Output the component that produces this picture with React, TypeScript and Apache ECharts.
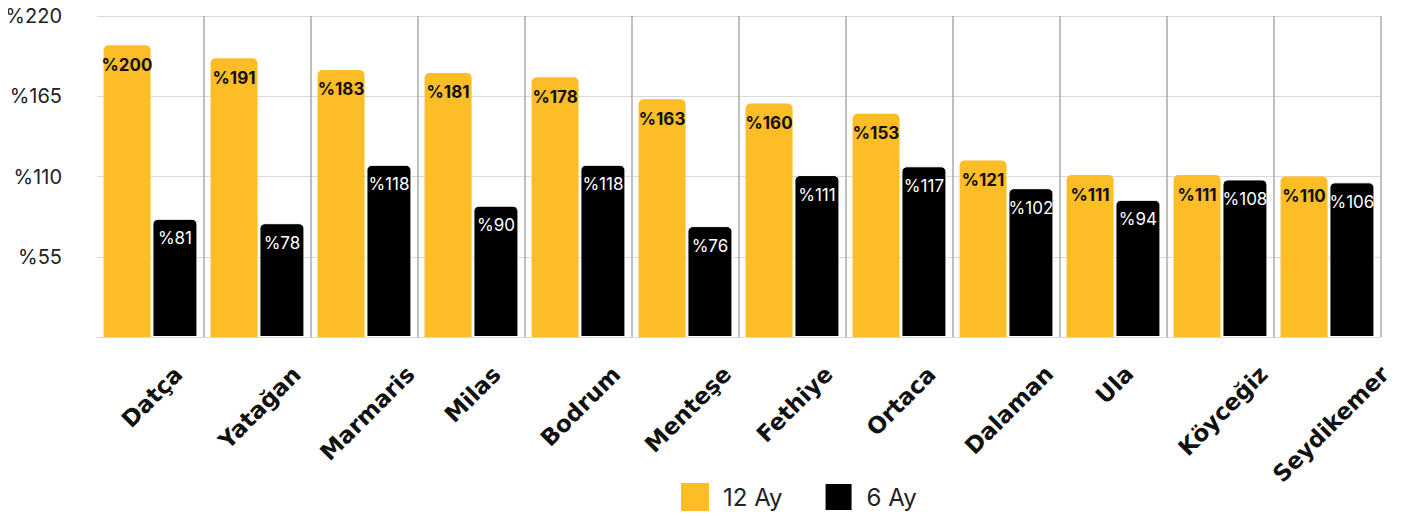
import React, { useEffect, useRef } from "react";
import * as echarts from "echarts";

const categories = ["Datça", "Yatağan", "Marmaris", "Milas", "Bodrum", "Menteşe", "Fethiye", "Ortaca", "Dalaman", "Ula", "Köyceğiz", "Seydikemer"];
const values12 = [200, 191, 183, 181, 178, 163, 160, 153, 121, 111, 111, 110];
const values6 = [81, 78, 118, 90, 118, 76, 111, 117, 102, 94, 108, 106];
const yTicks = [0, 55, 110, 165, 220];

const FONT = "Inter, 'Noto Sans', sans-serif";
const XFONT = "'DejaVu Sans', Inter, sans-serif";
const XFS = 23;

function measure(text: string, font: string): number {
  const c = document.createElement("canvas");
  const ctx = c.getContext("2d");
  if (!ctx) return text.length * 14;
  ctx.font = font;
  return ctx.measureText(text).width;
}

export default function App() {
  const ref = useRef<HTMLDivElement>(null);
  useEffect(() => {
    if (!ref.current) return;
    const chart = echarts.init(ref.current, null, { renderer: "svg" });
    // rotated labels: centred under each category, their top ends on one line
    const lift = 52;
    const yTop = 362;
    const xData = categories.map((name) => {
      const w = measure(name, `bold ${XFS}px "DejaVu Sans"`);
      const dx = 0.373 * w - 8;
      const r = Math.max(0, (lift - dx) / 1.414);
      const s = (lift + dx) / 1.414;
      const t = 2 * s + XFS;
      return { value: name, textStyle: { padding: [Math.round(t), Math.round(r), 0, 0] } };
    });
    chart.setOption({
      animation: false,
      textStyle: { fontFamily: FONT },
      grid: { left: 89, right: 16, top: 16, bottom: 179, containLabel: false, outerBoundsMode: "none" },
      legend: {
        left: 668,
        top: 477,
        itemWidth: 28,
        itemHeight: 28,
        itemGap: 41,
        icon: "rect",
        textStyle: { fontSize: 24, color: "#222", fontFamily: FONT, padding: [0, 0, 0, 9] },
        data: ["12 Ay", "6 Ay"],
      },
      xAxis: {
        type: "category",
        data: xData,
        axisLine: { show: false },
        axisTick: { show: false },
        splitLine: { show: true, showMinLine: false, lineStyle: { color: "#ababab", width: 1.5 } },
        axisLabel: {
          rotate: 45,
          interval: 0,
          margin: yTop - lift - 337,
          formatter: (v: string) => `{a|${v}}`,
          rich: {
            a: { fontSize: XFS, lineHeight: XFS, fontWeight: "bold", color: "#111", fontFamily: XFONT },
          },
          fontSize: XFS,
          fontWeight: "bold",
          color: "#111",
          fontFamily: XFONT,
        },
      },
      yAxis: {
        type: "value",
        min: yTicks[0],
        max: yTicks[yTicks.length - 1],
        interval: 55,
        axisLine: { show: false },
        axisTick: { show: false },
        splitLine: { lineStyle: { color: "#d9d9d9", width: 1 } },
        axisLabel: {
          margin: 35,
          fontSize: 20,
          color: "#222",
          fontFamily: FONT,
          formatter: (v: number) => (v === 0 ? "" : "%" + v),
        },
      },
      series: [
        {
          name: "12 Ay",
          type: "bar",
          data: values12,
          barWidth: 47,
          barGap: "4%",
          itemStyle: { color: "#FCBD26", borderRadius: [5, 5, 0, 0] },
          label: {
            show: true,
            position: "insideTop",
            distance: 11,
            formatter: "%{c}",
            fontSize: 17,
            fontWeight: "bold",
            color: "#111",
            fontFamily: FONT,
          },
        },
        {
          name: "6 Ay",
          type: "bar",
          data: values6,
          barWidth: 45,
          itemStyle: { color: "#000", borderColor: "#fff", borderWidth: 1, borderRadius: [5, 5, 0, 0] },
          label: {
            show: true,
            position: "insideTop",
            distance: 11,
            formatter: "%{c}",
            fontSize: 17,
            fontWeight: "normal",
            color: "#fff",
            fontFamily: FONT,
          },
        },
      ],
    });
    return () => chart.dispose();
  }, []);
  return <div ref={ref} style={{ width: 1389, height: 516, marginTop: -8 }} />;
}
